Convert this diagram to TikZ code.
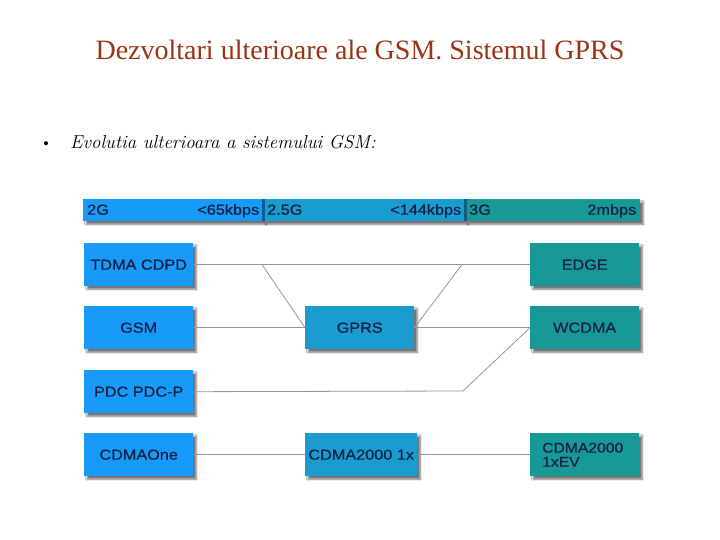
\documentclass[tikz,border=0pt]{standalone}
\usepackage{fontspec}
\setsansfont{Liberation Sans}[FakeStretch=1.12, FakeBold=0.5]
\newfontfamily\titlefont{Liberation Serif}
\usetikzlibrary{shadows.blur}
\definecolor{titlered}{RGB}{156,52,20}
\definecolor{boxtext}{RGB}{18,34,70}
\definecolor{gtwo}{RGB}{24,154,248}
\definecolor{gtwofive}{RGB}{26,156,208}
\definecolor{gthree}{RGB}{24,152,150}
\definecolor{linkgray}{RGB}{150,150,150}
\tikzset{
    gbox/.style={minimum width=109pt, minimum height=43pt, anchor=north west,
        inner sep=2pt, text=boxtext, font=\sffamily\fontsize{14.5}{15}\selectfont,
        blur shadow={shadow xshift=3pt, shadow yshift=-3pt, shadow blur steps=6, shadow opacity=55}},
    barseg/.style={minimum height=22pt, anchor=north west, inner sep=0pt,
        blur shadow={shadow xshift=3pt, shadow yshift=-3pt, shadow blur steps=6, shadow opacity=55}},
    bartext/.style={inner sep=0pt, text=boxtext, font=\sffamily\fontsize{14.5}{15}\selectfont},
    link/.style={draw=linkgray, line width=0.8pt}
}

\begin{document}
\begin{tikzpicture}[x=1pt, y=-1pt]
    \useasboundingbox[fill=white] (0,0) rectangle (720,540);

    \node[anchor=base, text=titlered, font=\titlefont\fontsize{28}{32}\selectfont] (title) at (360,60)
        {Dezvoltari ulterioare ale GSM. Sistemul GPRS};
    \node[anchor=base] (bullet) at (46,149) {\fontsize{18}{20}\selectfont\textbullet};
    \node[anchor=base west, inner sep=0pt, font=\itshape\fontsize{18.8}{22}\selectfont] (intro) at (70,149)
        {Evolutia ulterioara a sistemului GSM:};

    % generations bar
    \node[barseg, fill=gtwo, minimum width=180pt] (bartwo) at (83,199) {};
    \node[barseg, fill=gtwofive, minimum width=202pt] (bartwofive) at (263,199) {};
    \node[barseg, fill=gthree, minimum width=175pt] (barthree) at (465,199) {};
    \fill[gtwo!60!black] (262,199) rectangle (265,221);
    \fill[gtwofive!60!black] (464,199) rectangle (467,221);
    \foreach \seg/\gen/\rate in {bartwo/2G/<65kbps, bartwofive/2.5G/<144kbps, barthree/3G/2mbps} {
        \node[bartext, anchor=base west] at ([xshift=4pt, yshift=-4.5pt]\seg.west) {\gen};
        \node[bartext, anchor=base east] at ([xshift=-4pt, yshift=-4.5pt]\seg.east) {\rate};
    }

    % systems
    \node[gbox, fill=gtwo] (tdma) at (84,243) {TDMA CDPD};
    \node[gbox, fill=gtwo] (gsm) at (84,306) {GSM};
    \node[gbox, fill=gtwo] (pdc) at (84,370) {PDC PDC-P};
    \node[gbox, fill=gtwo] (cdmaone) at (84,433) {CDMAOne};
    \node[gbox, fill=gtwofive] (gprs) at (305,306) {GPRS};
    \node[gbox, fill=gtwofive, minimum width=112pt] (cdmax) at (305,433) {CDMA2000 1x};
    \node[gbox, fill=gthree] (edge) at (530,243) {EDGE};
    \node[gbox, fill=gthree, align=left, text width=85pt,
        font=\sffamily\fontsize{14}{14}\selectfont] (cdmaev) at (530,433) {CDMA2000\\1xEV};
    \node[gbox, fill=gthree] (wcdma) at (530,306) {WCDMA};

    \coordinate (forkl) at (262,264.5);
    \coordinate (forkr) at (462,264.5);
    \coordinate (pdcbend) at (463,391);

    \draw[link] (tdma) -- (edge);
    \draw[link] (forkl) -- (gprs.west);
    \draw[link] (forkr) -- (gprs.east);
    \draw[link] (gsm) -- (gprs);
    \draw[link] (gprs) -- (wcdma);
    \draw[link] (pdc.east) -- (pdcbend) -- (wcdma.west);
    \draw[link] (cdmaone) -- (cdmax);
    \draw[link] (cdmax) -- (cdmaev);
\end{tikzpicture}
\end{document}
